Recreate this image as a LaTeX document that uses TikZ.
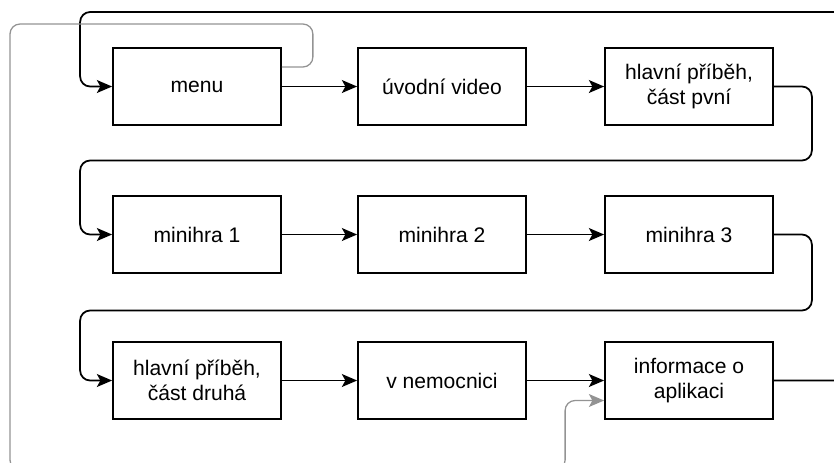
\documentclass[tikz,border=0pt]{standalone}
\usepackage{fontspec}
\setmainfont{Liberation Sans}
\usetikzlibrary{arrows.meta}
\usetikzlibrary{calc}
\def\wide{5.04}
\def\high{2.31}

\begin{document}
\begin{tikzpicture}[x=0.03cm, y=-0.03cm]
	\tikzstyle{box}  = [rectangle, draw, line width=1.5pt, minimum width=\wide cm, minimum height=\high cm, inner sep=0pt, align=center, font=\fontsize{18}{21.5}\selectfont]
	\tikzstyle{flow} = [line width=1.5pt, rounded corners=0.3cm, -{Stealth[length=13pt, width=11pt, inset=3pt]}]
	\tikzstyle{back} = [flow, line width=1.1pt, draw=gray!85, -{Stealth[length=13pt, width=11pt, inset=3pt, fill=gray!85]}]
	\useasboundingbox (0,0) rectangle (834,462);

	\node [box](menu) at (197, 86.5) {menu};
	\node [box](video) at (442, 86.5) {úvodní video};
	\node [box](pribeh1) at (689, 86.5) {hlavní příběh,\\část pvní};
	\node [box](hra1) at (197, 234.5) {minihra 1};
	\node [box](hra2) at (442, 234.5) {minihra 2};
	\node [box](hra3) at (689, 234.5) {minihra 3};
	\node [box](pribeh2) at (197, 380.5) {hlavní příběh,\\část druhá};
	\node [box](nemoc) at (442, 380.5) {v nemocnici};
	\node [box](info) at (689, 380.5) {informace o\\aplikaci};

	%%rows
	\draw [flow] (menu)--(video);
	\draw [flow] (video)--(pribeh1);
	\draw [flow] (hra1)--(hra2);
	\draw [flow] (hra2)--(hra3);
	\draw [flow] (pribeh2)--(nemoc);
	\draw [flow] (nemoc)--(info);

	%%wrap to the next row
	\draw [flow] (pribeh1.east) -| ($(pribeh1.east) + (38, 74)$) -| ($(hra1.west) + (-32, 0)$) -- (hra1.west);
	\draw [flow] (hra3.east) -| ($(hra3.east) + (38, 76)$) -| ($(pribeh2.west) + (-32, 0)$) -- (pribeh2.west);

	%%back to menu
	\coordinate (topright) at (852, 12);
	\draw [flow] (info.east) -| (topright) -| ($(menu.west) + (-32, 0)$) -- (menu.west);
	\coordinate (bottomleft) at (10, 470);
	\draw [back] ($(menu.east) + (0, -19.5)$) -| ($(menu.east) + (31, -62.5)$) -| (bottomleft) -| ($(info.west) + (-39, 20)$) -- ($(info.west) + (0, 20)$);
\end{tikzpicture}
\end{document}
